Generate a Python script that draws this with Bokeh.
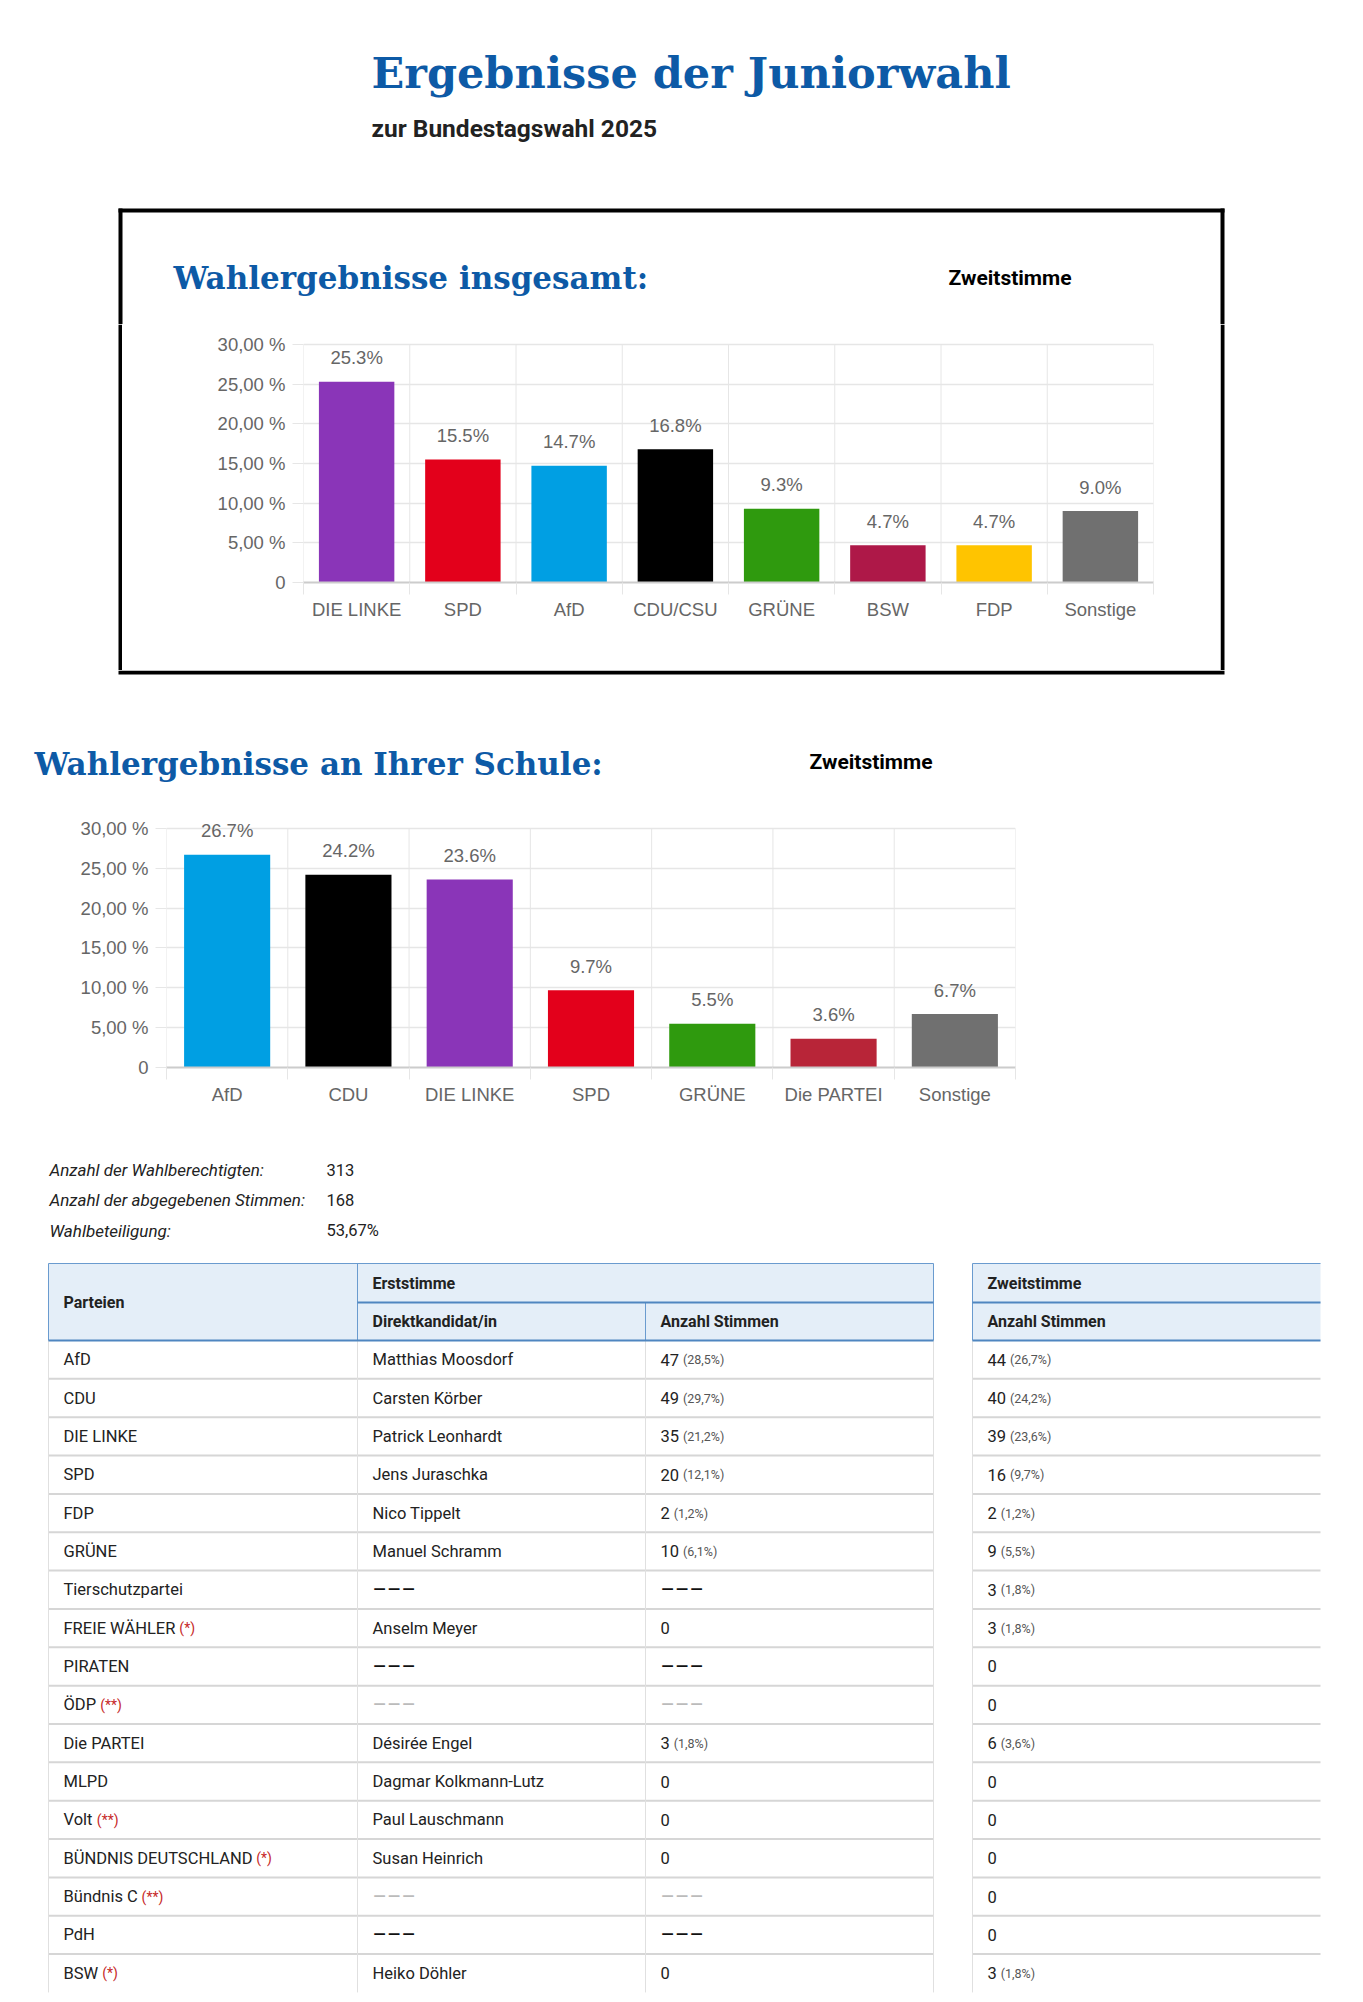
from bokeh.plotting import figure
from bokeh.models import Range1d, FixedTicker, ColumnDataSource, LabelSet
from bokeh.layouts import column, row
from bokeh.core.properties import value
from bokeh.embed import file_html
from bokeh.resources import INLINE

# ---------------- data ----------------
page_title = "Ergebnisse der Juniorwahl"
page_subtitle = "zur Bundestagswahl 2025"
title_total = "Wahlergebnisse insgesamt:"
title_school = "Wahlergebnisse an Ihrer Schule:"
vote_kind = "Zweitstimme"

total_parties = ["DIE LINKE", "SPD", "AfD", "CDU/CSU", "GRÜNE", "BSW", "FDP", "Sonstige"]
total_values = [25.3, 15.5, 14.7, 16.8, 9.3, 4.7, 4.7, 9.0]
total_colors = ["#8a35b8", "#e3001b", "#009fe3", "#000000", "#2f9a0e", "#ae1848", "#ffc400", "#707070"]

school_parties = ["AfD", "CDU", "DIE LINKE", "SPD", "GRÜNE", "Die PARTEI", "Sonstige"]
school_values = [26.7, 24.2, 23.6, 9.7, 5.5, 3.6, 6.7]
school_colors = ["#009fe3", "#000000", "#8a35b8", "#e3001b", "#2f9a0e", "#b82538", "#707070"]

y_ticks = [0, 5, 10, 15, 20, 25, 30]
y_tick_labels = ["0", "5,00 %", "10,00 %", "15,00 %", "20,00 %", "25,00 %", "30,00 %"]
y_max = 30

stats_labels = ["Anzahl der Wahlberechtigten:", "Anzahl der abgegebenen Stimmen:", "Wahlbeteiligung:"]
stats_values = ["313", "168", "53,67%"]

head_parteien = "Parteien"
head_erst = "Erststimme"
head_kandidat = "Direktkandidat/in"
head_anzahl = "Anzahl Stimmen"

table_parties = ["AfD", "CDU", "DIE LINKE", "SPD", "FDP", "GRÜNE", "Tierschutzpartei", "FREIE WÄHLER",
                 "PIRATEN", "ÖDP", "Die PARTEI", "MLPD", "Volt", "BÜNDNIS DEUTSCHLAND", "Bündnis C",
                 "PdH", "BSW"]
table_marks = ["", "", "", "", "", "", "", "(*)", "", "(**)", "", "", "(**)", "(*)", "(**)", "", "(*)"]
candidates = ["Matthias Moosdorf", "Carsten Körber", "Patrick Leonhardt", "Jens Juraschka", "Nico Tippelt",
              "Manuel Schramm", "–––", "Anselm Meyer", "–––", "–––", "Désirée Engel", "Dagmar Kolkmann-Lutz",
              "Paul Lauschmann", "Susan Heinrich", "–––", "–––", "Heiko Döhler"]
erst_votes = ["47", "49", "35", "20", "2", "10", "–––", "0", "–––", "–––", "3", "0", "0", "0", "–––", "–––", "0"]
erst_pct = ["(28,5%)", "(29,7%)", "(21,2%)", "(12,1%)", "(1,2%)", "(6,1%)", "", "", "", "", "(1,8%)",
            "", "", "", "", "", ""]
dash_light = [False, False, False, False, False, False, False, False, False, True, False, False, False,
              False, True, False, False]
zweit_votes = ["44", "40", "39", "16", "2", "9", "3", "3", "0", "0", "6", "0", "0", "0", "0", "0", "3"]
zweit_pct = ["(26,7%)", "(24,2%)", "(23,6%)", "(9,7%)", "(1,2%)", "(5,5%)", "(1,8%)", "(1,8%)", "", "",
             "(3,6%)", "", "", "", "", "", "(1,8%)"]

# ---------------- helpers ----------------
BLUE = "#0d5aa6"
W = 1360

RW = {'A': .65, 'B': .62, 'C': .65, 'D': .66, 'E': .56, 'F': .55, 'G': .68, 'H': .71, 'I': .27, 'J': .55,
      'K': .63, 'L': .54, 'M': .87, 'N': .71, 'O': .69, 'P': .63, 'Q': .69, 'R': .62, 'S': .59, 'T': .60,
      'U': .65, 'V': .64, 'W': .89, 'X': .63, 'Y': .60, 'Z': .60, 'Ä': .65, 'Ö': .69, 'Ü': .65,
      'a': .54, 'b': .56, 'c': .52, 'd': .56, 'e': .53, 'f': .35, 'g': .56, 'h': .55, 'i': .24, 'j': .24,
      'k': .51, 'l': .24, 'm': .88, 'n': .55, 'o': .57, 'p': .56, 'q': .57, 'r': .34, 's': .52, 't': .33,
      'u': .55, 'v': .48, 'w': .75, 'x': .5, 'y': .47, 'z': .5, 'ü': .55, 'ö': .57, 'é': .53, ' ': .25,
      '(': .34, ')': .35, '*': .43, ',': .2, '%': .73, '.': .26, '-': .28, '/': .41, ':': .24}


def tw(s, size):
    return sum(RW.get(c, .56) for c in s) * size


def canvas(w, h, bg="white"):
    p = figure(width=w, height=h, x_range=Range1d(0, w), y_range=Range1d(h, 0),
               x_axis_location=None, y_axis_location=None, toolbar_location=None,
               output_backend="svg", min_border=0, outline_line_color=None,
               background_fill_color=bg, border_fill_color=bg, frame_align=False)
    p.xgrid.visible = False
    p.ygrid.visible = False
    return p


def txt(p, x, y, t, size, color="#222222", font="Roboto", style="normal", align="left", base="middle"):
    p.text(x=x, y=y, text=t, text_font=value(font), text_font_size=size, text_color=color,
           text_font_style=style, text_align=align, text_baseline=base)


def bar_chart(w, h, cats, vals, cols, ml, mr, mt, mb):
    n = len(cats)
    idx = list(range(n))
    bounds = [i - 0.5 for i in range(n + 1)]
    src = ColumnDataSource(dict(x=idx, top=vals, color=cols, label=[f"{v:.1f}%" for v in vals]))
    # a little head-room above the 30 % line so the labels above tall bars are not clipped
    p = figure(width=w, height=h, x_range=Range1d(-0.5, n - 0.5), y_range=Range1d(0, y_max * 1.05),
               toolbar_location=None, output_backend="svg", min_border_left=ml, min_border_right=mr,
               min_border_top=mt, min_border_bottom=mb, outline_line_color=None, frame_align=False)
    p.xgrid.visible = False
    p.segment(x0=bounds, x1=bounds, y0=[0] * len(bounds), y1=[y_max] * len(bounds),
              line_color="#e6e6e6", line_width=1)
    p.vbar(x="x", top="top", width=0.71, fill_color="color", line_color=None, source=src)
    p.add_layout(LabelSet(x="x", y="top", text="label", source=src, text_align="center",
                          text_baseline="middle", y_offset=24, text_font=value("Liberation Sans"),
                          text_font_size="18.5px", text_color="#666666"))
    p.ygrid.grid_line_color = "#e6e6e6"
    p.ygrid.grid_line_width = 1.5
    ya = p.yaxis[0]
    ya.ticker = FixedTicker(ticks=y_ticks)
    ya.major_label_overrides = dict(zip(y_ticks, y_tick_labels))
    ya.axis_line_color = None
    ya.major_tick_out = 11
    ya.major_tick_in = 0
    ya.major_tick_line_color = "#e6e6e6"
    ya.minor_tick_line_color = None
    ya.major_label_standoff = 7
    ya.major_label_text_font = "Liberation Sans"
    ya.major_label_text_font_size = "18.5px"
    ya.major_label_text_color = "#666666"
    xa = p.xaxis[0]
    xa.ticker = FixedTicker(ticks=idx, minor_ticks=bounds)
    xa.major_label_overrides = dict(zip(idx, cats))
    xa.axis_line_color = "#cccccc"
    xa.axis_line_width = 2
    xa.major_tick_line_color = None
    xa.major_tick_out = 0
    xa.major_tick_in = 0
    xa.minor_tick_out = 12
    xa.minor_tick_in = 0
    xa.minor_tick_line_color = "#e6e6e6"
    xa.major_label_standoff = 4
    xa.major_label_text_font = "Liberation Sans"
    xa.major_label_text_font_size = "18.5px"
    xa.major_label_text_color = "#666666"
    return p


# ---------------- geometry (page pixels) ----------------
BOX_L, BOX_R, BOX_T, BOX_B, BT = 118, 1224, 208, 674, 4
TOP_H = 324                       # header + top part of the box
CH1_H = BOX_B - BT - TOP_H        # chart-1 strip
SEC3_H = 138                      # box bottom + second heading
CH2_H = 330
TAB_H = 2002 - 5 - TOP_H - CH1_H - SEC3_H - CH2_H

# ---------------- header + box top ----------------
top = canvas(W, TOP_H)
txt(top, [371], [72], [page_title], "43px", BLUE, "DejaVu Serif", "bold", base="alphabetic")
txt(top, [371], [128], [page_subtitle], "24.5px", "#222222", "Roboto", "bold", base="alphabetic")
top.quad(left=[BOX_L, BOX_L, BOX_R - BT], right=[BOX_R, BOX_L + BT, BOX_R],
         top=[BOX_T, BOX_T, BOX_T], bottom=[BOX_T + BT, TOP_H, TOP_H], fill_color="black", line_color=None)
txt(top, [173], [277], [title_total], "31px", BLUE, "DejaVu Serif", "bold", base="alphabetic")
txt(top, [948], [277], [vote_kind], "21px", "#000000", "Roboto", "bold")

# ---------------- chart 1 inside the box ----------------
IW = BOX_R - BOX_L - 2 * BT
chart1 = bar_chart(IW, CH1_H, total_parties, total_values, total_colors,
                   303 - (BOX_L + BT), (BOX_L + BT + IW) - 1153, 8, CH1_H - (582 - TOP_H))
left_side = canvas(BOX_L + BT, CH1_H)
left_side.quad(left=[BOX_L], right=[BOX_L + BT], top=[0], bottom=[CH1_H], fill_color="black", line_color=None)
right_side = canvas(W - BOX_R + BT, CH1_H)
right_side.quad(left=[0], right=[BT], top=[0], bottom=[CH1_H], fill_color="black", line_color=None)
section_b = row(left_side, chart1, right_side)

# ---------------- box bottom + heading 2 ----------------
sec3 = canvas(W, SEC3_H)
sec3.quad(left=[BOX_L], right=[BOX_R], top=[0], bottom=[BT], fill_color="black", line_color=None)
txt(sec3, [34], [93], [title_school], "31px", BLUE, "DejaVu Serif", "bold", base="alphabetic")
txt(sec3, [809], [91], [vote_kind], "21px", "#000000", "Roboto", "bold")

# ---------------- chart 2 ----------------
C2_TOP = TOP_H + CH1_H + SEC3_H
chart2 = bar_chart(W, CH2_H, school_parties, school_values, school_colors,
                   166, W - 1015, 8, CH2_H - (1067 - C2_TOP))

# ---------------- stats + table ----------------
tab = canvas(W, TAB_H)
for yy, lab, val in zip([31, 61, 92], stats_labels, stats_values):
    txt(tab, [49], [yy], [lab], "17px", "#222222", "Roboto", "italic")
    txt(tab, [326], [yy], [val], "16.5px", "#222222", "Roboto")

X0, X1, X2, X3 = 48, 357, 645, 933
R0, R1 = 972, 1320
HT, HM, HB = 125, 164, 202
RH = 38.35
N = len(table_parties)
BODY_B = HB + N * RH

tab.quad(left=[X0, R0], right=[X3, R1], top=[HT, HT], bottom=[HB, HB], fill_color="#e4eef8", line_color=None)
row_lines_y = [HB + (i + 1) * RH for i in range(N - 1)]
tab.segment(x0=[X0] * len(row_lines_y), x1=[X3] * len(row_lines_y), y0=row_lines_y, y1=row_lines_y,
            line_color="#d6d6d6", line_width=2)
tab.segment(x0=[R0] * len(row_lines_y), x1=[R1] * len(row_lines_y), y0=row_lines_y, y1=row_lines_y,
            line_color="#d6d6d6", line_width=2)
tab.segment(x0=[X0, X1, X2, X3, R0], x1=[X0, X1, X2, X3, R0], y0=[HB] * 5, y1=[BODY_B] * 5,
            line_color="#e0e0e0", line_width=1)
hb = "#6a9bcf"
tab.segment(x0=[X0, X0, X1, X3, R0, R0], x1=[X3, X0, X1, X3, R1, R0],
            y0=[HT, HT, HT, HT, HT, HT], y1=[HT, HB, HB, HB, HT, HB], line_color=hb, line_width=1)
tab.segment(x0=[X2], x1=[X2], y0=[HM], y1=[HB], line_color=hb, line_width=1)
tab.segment(x0=[X1, R0, X0, R0], x1=[X3, R1, X3, R1], y0=[HM, HM, HB, HB], y1=[HM, HM, HB, HB],
            line_color="#4f86c0", line_width=2)

TX0, TX1, TX2, TR = X0 + 15, X1 + 15, X2 + 15, R0 + 15
hy1, hy2 = (HT + HM) / 2, (HM + HB) / 2
txt(tab, [TX0], [(HT + HB) / 2], [head_parteien], "16px", "#222222", "Roboto", "bold")
txt(tab, [TX1, TR], [hy1, hy1], [head_erst, vote_kind], "16px", "#222222", "Roboto", "bold")
txt(tab, [TX1, TX2, TR], [hy2] * 3, [head_kandidat, head_anzahl, head_anzahl], "16px", "#222222", "Roboto", "bold")

FS = 16.5
ys = [HB + (i + 0.5) * RH for i in range(N)]
txt(tab, [TX0] * N, ys, table_parties, f"{FS}px")
mk = [(TX0 + tw(p_, FS) + 4, y, m) for p_, y, m in zip(table_parties, ys, table_marks) if m]
txt(tab, [a for a, _, _ in mk], [b for _, b, _ in mk], [c for _, _, c in mk], "14px", "#c62828")

for col_x, vals, pcts in [(TX2, erst_votes, erst_pct), (TR, zweit_votes, zweit_pct)]:
    norm = [(v, y) for v, y in zip(vals, ys) if v != "–––"]
    txt(tab, [col_x] * len(norm), [y for _, y in norm], [v for v, _ in norm], f"{FS}px")
    pp = [(col_x + tw(v, FS) + 4, y, pc) for v, y, pc in zip(vals, ys, pcts) if pc]
    txt(tab, [a for a, _, _ in pp], [b for _, b, _ in pp], [c for _, _, c in pp], "12.5px", "#555555")

for col_x, vals in [(TX1, candidates), (TX2, erst_votes)]:
    dark = [y for v, y, lt in zip(vals, ys, dash_light) if v == "–––" and not lt]
    light = [y for v, y, lt in zip(vals, ys, dash_light) if v == "–––" and lt]
    txt(tab, [col_x] * len(dark), dark, ["–––"] * len(dark), "22px", "#111111")
    txt(tab, [col_x] * len(light), light, ["–––"] * len(light), "22px", "#bbbbbb")
normc = [(v, y) for v, y in zip(candidates, ys) if v != "–––"]
txt(tab, [TX1] * len(normc), [y for _, y in normc], [v for v, _ in normc], f"{FS}px")

page = column(top, section_b, sec3, chart2, tab)

open("out.html", "w").write(file_html(page, INLINE))
